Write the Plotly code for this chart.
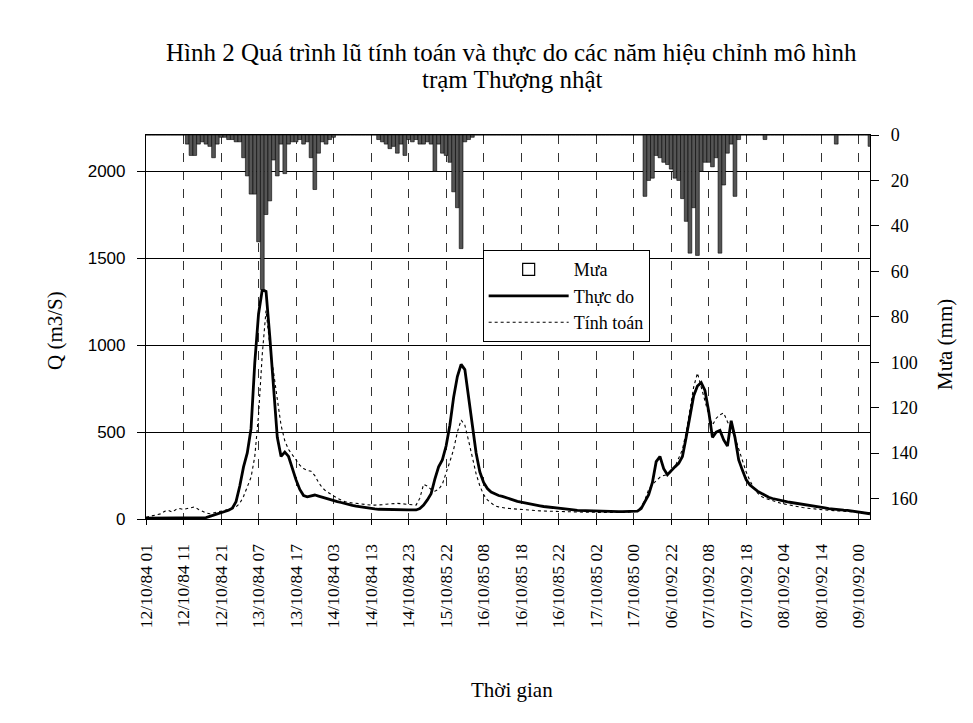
import plotly.graph_objects as go

# ---- data (hourly steps) ----
tick_labels = ["12/10/84 01", "12/10/84 11", "12/10/84 21", "13/10/84 07", "13/10/84 17",
               "14/10/84 03", "14/10/84 13", "14/10/84 23", "15/10/85 22", "16/10/85 08",
               "16/10/85 18", "16/10/85 22", "17/10/85 02", "17/10/85 00", "06/10/92 22",
               "07/10/92 08", "07/10/92 18", "08/10/92 04", "08/10/92 14", "09/10/92 00"]

q_thuc_do = [
    5, 5, 5, 5, 5, 5, 5, 5, 5, 5,
    5, 5, 5, 5, 5, 5, 8, 15, 22, 28,
    32, 40, 50, 62, 100, 190, 300, 380, 520, 900,
    1180, 1320, 1310, 1050, 760, 470, 360, 385, 360, 290,
    225, 170, 135, 128, 132, 138, 132, 125, 118, 110,
    105, 100, 95, 88, 82, 78, 74, 70, 66, 63,
    60, 58, 56, 55, 54, 53, 52, 52, 52, 52,
    52, 52, 52, 60, 80, 110, 145, 230, 300, 340,
    420, 540, 700, 820, 890, 860, 700, 520, 380, 270,
    210, 175, 155, 145, 135, 130, 122, 115, 108, 102,
    97, 92, 88, 84, 80, 76, 72, 69, 66, 63,
    60, 58, 56, 54, 52, 50, 49, 48, 47, 46,
    45, 44, 44, 43, 43, 42, 42, 42, 42, 42,
    43, 45, 60, 100, 140, 210, 330, 360, 290, 255,
    280, 300, 320, 360, 470, 600, 710, 765, 785, 740,
    620, 470, 500, 510, 455, 420, 565, 470, 340, 280,
    225, 195, 175, 160, 148, 135, 125, 118, 112, 107,
    102, 98, 95, 92, 88, 85, 82, 78, 75, 72,
    68, 64, 60, 57, 55, 53, 51, 50, 47, 44,
    40, 35, 31, 30]

q_tinh_toan = [
    10, 15, 20, 25, 30, 45, 50, 40, 55, 60,
    55, 60, 65, 70, 55, 45, 35, 30, 35, 40,
    45, 50, 55, 60, 70, 90, 130, 180, 240, 360,
    600, 950, 1200, 1000, 830, 690, 540, 450, 400, 370,
    340, 310, 290, 280, 275, 250, 210, 180, 160, 145,
    130, 120, 110, 100, 95, 92, 90, 88, 85, 82,
    80, 80, 80, 82, 85, 88, 90, 90, 88, 85,
    82, 80, 80, 120, 200, 190, 170, 160, 170, 200,
    260, 330, 400, 500, 570, 540, 450, 350, 260, 190,
    140, 110, 90, 75, 70, 65, 62, 60, 58, 55,
    53, 52, 50, 50, 48, 47, 46, 45, 45, 44,
    43, 42, 42, 41, 40, 40, 40, 39, 39, 38,
    38, 38, 38, 37, 37, 37, 37, 37, 38, 40,
    42, 50, 70, 110, 170, 200, 220, 240, 250, 255,
    270, 300, 350, 400, 500, 620, 760, 840, 760, 680,
    600, 540, 580, 600, 610, 560, 520, 470, 400, 330,
    270, 220, 180, 150, 130, 120, 112, 105, 98, 92,
    87, 82, 78, 74, 70, 66, 63, 60, 58, 56,
    54, 52, 50, 48, 46, 45, 44, 43, 42, 41,
    40, 38, 36, 35]

mua = [
    0, 0, 0, 0, 0, 0, 0, 0, 0, 0,
    0, 4, 9, 9, 4, 3, 4, 5, 10, 4,
    1, 1, 2, 2, 3, 3, 10, 18, 26, 26,
    47, 68, 35, 29, 11, 18, 4, 17, 4, 3,
    3, 2, 4, 3, 10, 24, 8, 3, 4, 2,
    1, 0, 0, 0, 0, 0, 0, 0, 0, 0,
    0, 0, 2, 3, 4, 6, 5, 8, 4, 9,
    2, 3, 2, 4, 4, 3, 4, 16, 4, 8,
    9, 12, 25, 32, 50, 3, 2, 1, 0, 0,
    0, 0, 0, 0, 0, 0, 0, 0, 0, 0,
    0, 0, 0, 0, 0, 0, 0, 0, 0, 0,
    0, 0, 0, 0, 0, 0, 0, 0, 0, 0,
    0, 0, 0, 0, 0, 0, 0, 0, 0, 0,
    0, 0, 0, 27, 20, 19, 9, 10, 12, 13,
    15, 19, 20, 28, 38, 52, 32, 53, 16, 12,
    12, 14, 10, 52, 22, 8, 4, 27, 2, 0,
    0, 0, 0, 0, 0, 2, 0, 0, 0, 0,
    0, 0, 0, 0, 0, 0, 0, 0, 0, 0,
    0, 0, 0, 0, 4, 0, 0, 0, 0, 0,
    0, 0, 0, 5]

hours = list(range(len(q_thuc_do)))
tick_vals = [10 * k for k in range(len(tick_labels))]

SERIF = "Liberation Serif, Times New Roman, serif"
SANS = "Liberation Sans, Arial, sans-serif"

fig = go.Figure()
fig.add_trace(go.Bar(x=hours[:len(mua)], y=mua, yaxis="y2", width=1.0, showlegend=False,
                     marker=dict(color="#555555", line=dict(color="black", width=0.6))))
fig.add_trace(go.Bar(x=[None], y=[None], yaxis="y2", name="Mưa",
                     marker=dict(color="white", line=dict(color="black", width=1.2))))
fig.add_trace(go.Scatter(x=hours, y=q_thuc_do, mode="lines", name="Thực do",
                         line=dict(color="black", width=2.8)))
fig.add_trace(go.Scatter(x=hours[:len(q_tinh_toan)], y=q_tinh_toan, mode="lines", name="Tính toán",
                         line=dict(color="black", width=1.1, dash="dot")))

fig.update_layout(
    width=973, height=723,
    paper_bgcolor="white", plot_bgcolor="white",
    margin=dict(l=146, r=103, t=135, b=204),
    barmode="overlay",
    showlegend=True,
    legend=dict(x=0.465, y=0.70, xanchor="left", yanchor="top",
                bgcolor="white", bordercolor="black", borderwidth=1,
                font=dict(family=SERIF, size=18, color="black"),
                traceorder="normal", tracegroupgap=0, itemwidth=80),
    xaxis=dict(range=[0, 193], tickmode="array", tickvals=tick_vals, ticktext=tick_labels,
               tickangle=-90, tickfont=dict(family=SERIF, size=17.5, color="black"),
               showgrid=True, gridcolor="#333333", gridwidth=1, griddash="dash",
               showline=True, linecolor="black", linewidth=1.2, mirror=True,
               ticks="outside", ticklen=5, tickcolor="black", zeroline=False,
               ticklabelstandoff=12),
    yaxis=dict(range=[0, 2210], tickmode="array", tickvals=[0, 500, 1000, 1500, 2000],
               tickfont=dict(family=SANS, size=17, color="black"),
               showgrid=True, gridcolor="black", gridwidth=1,
               showline=True, linecolor="black", linewidth=1.2, mirror=True,
               ticks="outside", ticklen=8, tickcolor="black", zeroline=False,
               ticklabelstandoff=8),
    yaxis2=dict(overlaying="y", side="right", range=[169, 0],
                tickmode="array", tickvals=[0, 20, 40, 60, 80, 100, 120, 140, 160],
                tickfont=dict(family=SERIF, size=18, color="black"),
                showgrid=False, showline=True, linecolor="black", linewidth=1.2,
                ticks="outside", ticklen=8, tickcolor="black", zeroline=False,
                ticklabelstandoff=8),
)

ann_font = dict(family=SERIF, size=21, color="black")
fig.add_annotation(text="Hình 2 Quá trình lũ tính toán và thực do các năm hiệu chỉnh mô hình",
                   xref="paper", yref="paper", x=0.505, y=(519 - 52) / 384,
                   showarrow=False, xanchor="center", yanchor="middle",
                   font=dict(family=SERIF, size=25, color="black"))
fig.add_annotation(text="trạm Thượng nhật",
                   xref="paper", yref="paper", x=0.505, y=(519 - 80) / 384,
                   showarrow=False, xanchor="center", yanchor="middle",
                   font=dict(family=SERIF, size=25, color="black"))
fig.add_annotation(text="Q (m3/S)", textangle=-90, xref="paper", yref="paper",
                   x=(55 - 146) / 724, y=(519 - 330) / 384, showarrow=False,
                   xanchor="center", yanchor="middle", font=ann_font)
fig.add_annotation(text="Mưa (mm)", textangle=-90, xref="paper", yref="paper",
                   x=(945 - 146) / 724, y=(519 - 345) / 384, showarrow=False,
                   xanchor="center", yanchor="middle", font=ann_font)
fig.add_annotation(text="Thời gian", xref="paper", yref="paper",
                   x=(512 - 146) / 724, y=(519 - 690) / 384, showarrow=False,
                   xanchor="center", yanchor="middle", font=ann_font)

fig.write_html("out.html", config={"displayModeBar": False},
               post_script="document.body.style.margin='0';document.body.style.overflow='hidden';")
